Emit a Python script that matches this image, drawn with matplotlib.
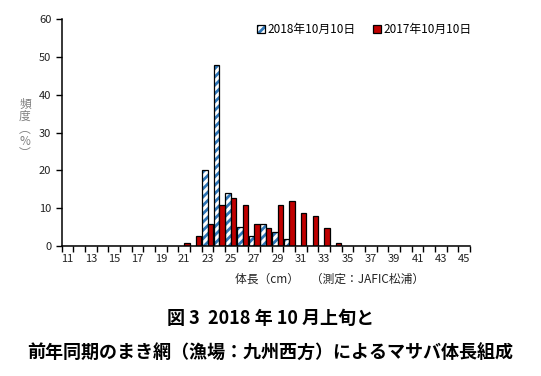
import numpy as np
import matplotlib
matplotlib.use("Agg")
import matplotlib.pyplot as plt
from matplotlib.legend_handler import HandlerTuple

plt.rcParams['font.family'] = ['Noto Sans CJK JP', 'DejaVu Sans']
plt.rcParams['hatch.linewidth'] = 2.0

# body length classes (cm) and frequency (%)
lengths = list(range(11, 46))
freq_2018 = {23: 20, 24: 48, 25: 14, 26: 5, 27: 2.6, 28: 5.7, 29: 3.7, 30: 1.8}
freq_2017 = {21: 0.7, 22: 2.6, 23: 5.7, 24: 10.8, 25: 12.6, 26: 10.8, 27: 5.7,
             28: 4.8, 29: 10.8, 30: 11.8, 31: 8.7, 32: 7.8, 33: 4.8, 34: 0.7}
tick_labels = [str(v) for v in range(11, 46, 2)]
label_2018 = "2018年10月10日"
label_2017 = "2017年10月10日"
ylabel_chars = ["頻", "度", "︵", "%", "︶"]

v2018 = [freq_2018.get(k, 0) for k in lengths]
v2017 = [freq_2017.get(k, 0) for k in lengths]
x = np.array(lengths)

fig = plt.figure(figsize=(5.41, 3.76), dpi=100)
ax = fig.add_axes([0.114, 0.346, 0.755, 0.603])

w = 0.47
blue = "#2E75B6"
# hatched bars: blue stripes, then a black outline on top
b1 = ax.bar(x - w / 2, v2018, w, color="white", edgecolor=blue, hatch="////", linewidth=0)
b1e = ax.bar(x - w / 2, v2018, w, fill=False, edgecolor="black", linewidth=0.9)
b2 = ax.bar(x + w / 2, v2017, w, color="#C00000", edgecolor="black", linewidth=0.9)

ax.set_xlim(10.5, 45.5)
ax.set_ylim(0, 60)
ax.set_yticks(range(0, 61, 10))
ax.set_xticks(range(11, 46, 2))
ax.set_xticklabels(tick_labels)
ax.set_xticks(np.arange(10.5, 46, 1), minor=True)
ax.tick_params(axis="x", which="major", length=0, pad=6, labelsize=8)
ax.tick_params(axis="x", which="minor", length=4, width=1, direction="out")
ax.tick_params(axis="y", length=4, width=1, direction="out", labelsize=8)
ax.tick_params(axis="both", labelcolor="#222222")
for s in ["top", "right"]:
    ax.spines[s].set_visible(False)
for s in ["left", "bottom"]:
    ax.spines[s].set_linewidth(1.1)

ax.legend([(b1[0], b1e[0]), b2[0]], [label_2018, label_2017],
          handler_map={tuple: HandlerTuple(ndivide=1, pad=0)},
          loc="upper right", bbox_to_anchor=(1.03, 1.03), ncol=2, frameon=False,
          fontsize=8.5, handlelength=0.7, handleheight=0.7, handletextpad=0.2,
          columnspacing=1.5)

# vertical y label, one character per line
for i, ch in enumerate(ylabel_chars):
    fig.text(25 / 541, 1 - (104 + i * 12.5) / 376, ch, ha="center", va="center",
             fontsize=8.5, color="#808080")

fig.text(235 / 541, 1 - 279 / 376, "体長（cm）　（測定：JAFIC松浦）", ha="left", va="center",
         fontsize=8.5, color="#222222")

fig.text(0.5, 1 - 318 / 376, "図 3  2018 年 10 月上旬と", ha="center", va="center",
         fontsize=13, fontweight="bold")
fig.text(0.5, 1 - 353 / 376, "前年同期のまき網（漁場：九州西方）によるマサバ体長組成",
         ha="center", va="center", fontsize=13, fontweight="bold")

fig.savefig("out.png", dpi=100)
